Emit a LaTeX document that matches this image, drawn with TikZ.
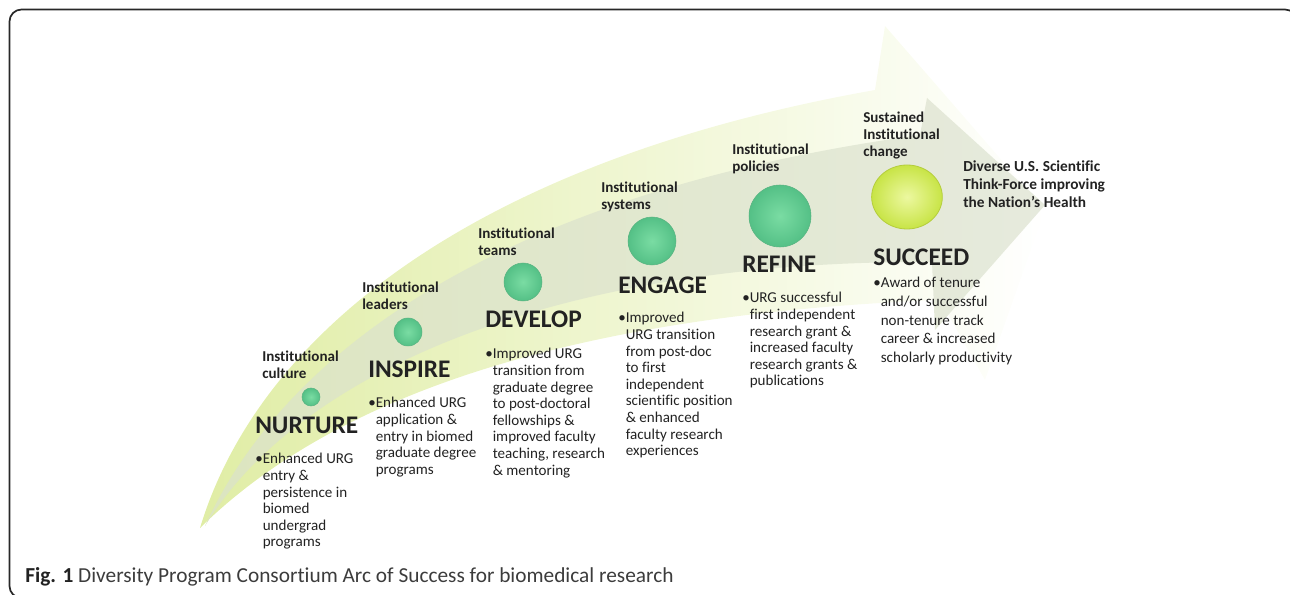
\documentclass[tikz,border=0pt]{standalone}
\usepackage{fontspec}
\setmainfont{Carlito}[Ligatures=NoCommon]
\usetikzlibrary{shapes.geometric}
\definecolor{txt}{RGB}{34,34,34}
\definecolor{captxt}{RGB}{60,60,60}
\definecolor{framec}{RGB}{40,40,40}
\definecolor{yel}{RGB}{224,237,165}
\definecolor{yelmid}{RGB}{241,246,218}
\definecolor{yelend}{RGB}{255,255,255}
\definecolor{greyL}{RGB}{220,229,192}
\definecolor{greyM}{RGB}{214,220,199}
\definecolor{greyR}{RGB}{230,234,221}
\definecolor{dotin}{RGB}{122,220,163}
\definecolor{dotout}{RGB}{84,192,134}
\definecolor{dotrim}{RGB}{90,180,130}
\definecolor{sucin}{RGB}{236,248,160}
\definecolor{sucout}{RGB}{200,228,70}
\definecolor{sucrim}{RGB}{180,205,60}
\newcommand\lns[1]{\begin{tabular}[t]{@{}l@{}}#1\end{tabular}}
\newcommand\bi{\hphantom{\textbullet}}
\begin{document}
\begin{tikzpicture}[x=0.75pt,y=-0.75pt,
  lbl/.style={font=\fontsize{11.3}{12.4}\selectfont\bfseries, text=txt, anchor=base west, inner sep=0pt},
  head/.style={font=\fontsize{19}{22}\selectfont\bfseries, text=txt, anchor=base west, inner sep=0pt},
  body/.style={font=\fontsize{11.3}{12.45}\selectfont, text=txt, anchor=base west, inner sep=0pt},
  dot/.style={circle, inner sep=0pt, draw=dotrim, line width=0.4pt, inner color=dotin, outer color=dotout}]
\useasboundingbox (0,0) rectangle (1290,595);
\clip (0,0) rectangle (1290,595);
% frame
\draw[framec, line width=1.3pt, rounded corners=9pt] (9.5,9.5) rectangle (1297,598);
% outer light arrow
\shade[left color=yel, middle color=yelmid, right color=yelend]
  (200,528) .. controls (260,330) and (480,160) .. (875,90) -- (885,26) -- (1045,210)
  -- (985,380) -- (940,300) .. controls (560,315) and (330,400) .. (200,528) -- cycle;
% inner grey arrow
\shade[left color=greyL, middle color=greyM, right color=greyR]
  (205,526) .. controls (290,340) and (520,190) .. (920,135) -- (927,98) -- (1045,205)
  -- (935,330) -- (932,262) .. controls (560,260) and (300,370) .. (205,526) -- cycle;
% dots
\node[dot, minimum size=13.5pt] (d1) at (311,397) {};
\node[dot, minimum size=21pt] (d2) at (408,332) {};
\node[dot, minimum size=28.5pt] (d3) at (523,282) {};
\node[dot, minimum size=36pt] (d4) at (652,241) {};
\node[dot, minimum size=46.5pt] (d5) at (780,216) {};
\node[ellipse, inner sep=0pt, minimum width=53pt, minimum height=48pt, draw=sucrim, line width=0.6pt, inner color=sucin, outer color=sucout] (d6) at (907,197) {};
% institutional labels
\node[lbl] (l1) at (262,362) {\lns{Institutional\\culture}};
\node[lbl] (l2) at (362,293) {\lns{Institutional\\leaders}};
\node[lbl] (l3) at (478,239) {\lns{Institutional\\teams}};
\node[lbl] (l4) at (601,193) {\lns{Institutional\\systems}};
\node[lbl] (l5) at (732,155) {\lns{Institutional\\policies}};
\node[lbl, font=\fontsize{11.3}{12.75}\selectfont\bfseries] (l6) at (863,123) {\lns{Sustained\\Institutional\\change}};
\node[lbl, font=\fontsize{11.5}{13.5}\selectfont\bfseries] (goal) at (963,172) {\lns{Diverse U.S. Scientific\\Think-Force improving\\the Nation’s Health}};
% headings
\node[head] (h1) at (255,434) {NURTURE};
\node[head] (h2) at (368,378) {INSPIRE};
\node[head] (h3) at (485,328) {DEVELOP};
\node[head] (h4) at (618,294) {ENGAGE};
\node[head] (h5) at (742,273) {REFINE};
\node[head] (h6) at (873,266) {SUCCEED};
% bodies
\node[body] (b1) at (255,464) {\lns{\textbullet Enhanced URG\\\bi entry \&\\\bi persistence in\\\bi biomed\\\bi undergrad\\\bi programs}};
\node[body] (b2) at (368,408) {\lns{\textbullet Enhanced URG\\\bi application \&\\\bi entry in biomed\\\bi graduate degree\\\bi programs}};
\node[body] (b3) at (485,359) {\lns{\textbullet Improved URG\\\bi transition from\\\bi graduate degree\\\bi to post-doctoral\\\bi fellowships \&\\\bi improved faculty\\\bi teaching, research\\\bi \& mentoring}};
\node[body] (b4) at (618,323) {\lns{\textbullet Improved\\\bi URG transition\\\bi from post-doc\\\bi to first\\\bi independent\\\bi scientific position\\\bi \& enhanced\\\bi faculty research\\\bi experiences}};
\node[body] (b5) at (742,303) {\lns{\textbullet URG successful\\\bi first independent\\\bi research grant \&\\\bi increased faculty\\\bi research grants \&\\\bi publications}};
\node[body, font=\fontsize{11.3}{13.9}\selectfont] (b6) at (873,288) {\lns{\textbullet Award of tenure\\\bi and/or successful\\\bi non-tenure track\\\bi career \& increased\\\bi scholarly productivity}};
% caption
\node[anchor=base west, inner sep=0pt, font=\fontsize{16}{18}\selectfont, text=captxt] (cap) at (25,582) {\textbf{\color{txt}Fig. 1} Diversity Program Consortium Arc of Success for biomedical research};
\end{tikzpicture}
\end{document}
